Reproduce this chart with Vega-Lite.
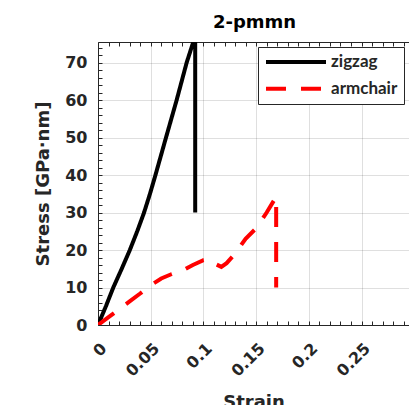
{
  "$schema": "https://vega.github.io/schema/vega-lite/v6.json",
  "autosize": {"type": "none"},
  "padding": {"left": 98, "top": 42, "right": 0, "bottom": 80},
  "width": 311,
  "height": 283,
  "background": "white",
  "config": {
    "view": {"stroke": null},
    "axis": {
      "domainColor": "#262626",
      "domainWidth": 1,
      "tickColor": "#262626",
      "labelColor": "#262626",
      "titleColor": "#262626",
      "labelFont": "DejaVu Sans",
      "labelFontWeight": "bold",
      "labelFontSize": 16,
      "titleFont": "DejaVu Sans",
      "titleFontWeight": "bold",
      "titleFontSize": 18
    }
  },
  "title": {
    "text": "2-pmmn",
    "font": "DejaVu Sans",
    "fontSize": 18,
    "fontWeight": "bold",
    "color": "#000000",
    "baseline": "alphabetic",
    "frame": "group",
    "offset": -6,
    "dx": 1
  },
  "data": {
    "values": [
      {"series": "zigzag", "i": 0, "strain": 0, "stress": 0},
      {"series": "zigzag", "i": 1, "strain": 0.0075, "stress": 5},
      {"series": "zigzag", "i": 2, "strain": 0.0145, "stress": 10},
      {"series": "zigzag", "i": 3, "strain": 0.0225, "stress": 15},
      {"series": "zigzag", "i": 4, "strain": 0.0302, "stress": 20},
      {"series": "zigzag", "i": 5, "strain": 0.0372, "stress": 25},
      {"series": "zigzag", "i": 6, "strain": 0.0437, "stress": 30},
      {"series": "zigzag", "i": 7, "strain": 0.0493, "stress": 35},
      {"series": "zigzag", "i": 8, "strain": 0.0545, "stress": 40},
      {"series": "zigzag", "i": 9, "strain": 0.0645, "stress": 50},
      {"series": "zigzag", "i": 10, "strain": 0.0746, "stress": 60},
      {"series": "zigzag", "i": 11, "strain": 0.0841, "stress": 70},
      {"series": "zigzag", "i": 12, "strain": 0.0904, "stress": 75.5},
      {"series": "zigzag", "i": 13, "strain": 0.0922, "stress": 77.5},
      {"series": "zigzag", "i": 14, "strain": 0.0922, "stress": 30},
      {"series": "armchair", "i": 0, "strain": 0, "stress": 0},
      {"series": "armchair", "i": 1, "strain": 0.01, "stress": 2.1},
      {"series": "armchair", "i": 2, "strain": 0.02, "stress": 4.2},
      {"series": "armchair", "i": 3, "strain": 0.03, "stress": 6.3},
      {"series": "armchair", "i": 4, "strain": 0.04, "stress": 8.4},
      {"series": "armchair", "i": 5, "strain": 0.05, "stress": 10.6},
      {"series": "armchair", "i": 6, "strain": 0.06, "stress": 12.4},
      {"series": "armchair", "i": 7, "strain": 0.07, "stress": 13.6},
      {"series": "armchair", "i": 8, "strain": 0.08, "stress": 14.5},
      {"series": "armchair", "i": 9, "strain": 0.09, "stress": 16.0},
      {"series": "armchair", "i": 10, "strain": 0.1, "stress": 17.3},
      {"series": "armchair", "i": 11, "strain": 0.106, "stress": 17.6},
      {"series": "armchair", "i": 12, "strain": 0.112, "stress": 16.2},
      {"series": "armchair", "i": 13, "strain": 0.117, "stress": 15.5},
      {"series": "armchair", "i": 14, "strain": 0.122, "stress": 16.5},
      {"series": "armchair", "i": 15, "strain": 0.13, "stress": 19.0},
      {"series": "armchair", "i": 16, "strain": 0.14, "stress": 23.0},
      {"series": "armchair", "i": 17, "strain": 0.15, "stress": 25.8},
      {"series": "armchair", "i": 18, "strain": 0.16, "stress": 30.0},
      {"series": "armchair", "i": 19, "strain": 0.169, "stress": 34.2},
      {"series": "armchair", "i": 20, "strain": 0.169, "stress": 10}
    ]
  },
  "layer": [
    {
      "mark": {"type": "line", "strokeWidth": 4, "clip": true},
      "encoding": {
        "x": {
          "field": "strain",
          "type": "quantitative",
          "scale": {"domain": [0, 0.295], "nice": false, "zero": false},
          "axis": {
            "orient": "bottom",
            "values": [0, 0.01, 0.02, 0.03, 0.04, 0.05, 0.06, 0.07, 0.08, 0.09, 0.1, 0.11, 0.12, 0.13, 0.14, 0.15, 0.16, 0.17, 0.18, 0.19, 0.2, 0.21, 0.22, 0.23, 0.24, 0.25, 0.26, 0.27, 0.28, 0.29],
            "labelExpr": "abs(round(datum.value*100)) % 5 == 0 ? format(datum.value, '~g') : ''",
            "grid": true,
            "gridColor": "#262626",
            "gridOpacity": {"condition": {"test": "abs(round(datum.value*100)) % 5 == 0", "value": 0.15}, "value": 0},
            "tickSize": -4,
            "labelAngle": -45,
            "labelAlign": "right",
            "labelBaseline": "top",
            "labelPadding": 19,
            "labelOverlap": false,
            "labelFlush": false,
            "title": "Strain",
            "titlePadding": 14
          }
        },
        "y": {
          "field": "stress",
          "type": "quantitative",
          "scale": {"domain": [0, 75.5], "nice": false},
          "axis": {
            "values": [0, 2, 4, 6, 8, 10, 12, 14, 16, 18, 20, 22, 24, 26, 28, 30, 32, 34, 36, 38, 40, 42, 44, 46, 48, 50, 52, 54, 56, 58, 60, 62, 64, 66, 68, 70, 72, 74],
            "labelExpr": "datum.value % 10 == 0 ? format(datum.value, 'd') : ''",
            "grid": true,
            "gridColor": "#262626",
            "gridOpacity": {"condition": {"test": "datum.value % 10 == 0", "value": 0.15}, "value": 0},
            "tickSize": -4,
            "labelPadding": 15,
            "labelOverlap": false,
            "labelFlush": false,
            "title": "Stress [GPa·nm]",
            "titlePadding": 12
          }
        },
        "color": {
          "field": "series",
          "type": "nominal",
          "scale": {"domain": ["zigzag", "armchair"], "range": ["#000000", "#ff0000"]},
          "legend": {
            "orient": "none",
            "legendX": 160,
            "legendY": 5,
            "title": null,
            "symbolType": "stroke",
            "symbolSize": 3600,
            "symbolStrokeWidth": 4,
            "clipHeight": 18,
            "labelFont": "Lato",
            "labelFontSize": 17,
            "labelFontWeight": "bold",
            "labelColor": "#262626",
            "labelOffset": 3,
            "strokeColor": "#262626",
            "fillColor": "white",
            "padding": 6,
            "rowPadding": 8.7
          }
        },
        "strokeDash": {
          "field": "series",
          "type": "nominal",
          "scale": {"domain": ["zigzag", "armchair"], "range": [[1, 0], [20, 15]]},
          "legend": {
            "orient": "none",
            "legendX": 160,
            "legendY": 5,
            "title": null,
            "symbolType": "stroke",
            "symbolSize": 3600,
            "symbolStrokeWidth": 4,
            "clipHeight": 18,
            "labelFont": "Lato",
            "labelFontSize": 17,
            "labelFontWeight": "bold",
            "labelColor": "#262626",
            "labelOffset": 3,
            "strokeColor": "#262626",
            "fillColor": "white",
            "padding": 6,
            "rowPadding": 8.7
          }
        },
        "order": {"field": "i", "type": "quantitative"}
      }
    },
    {
      "mark": {"type": "point", "opacity": 0},
      "encoding": {
        "x": {
          "field": "strain",
          "type": "quantitative",
          "axis": {
            "orient": "top",
            "values": [0, 0.01, 0.02, 0.03, 0.04, 0.05, 0.06, 0.07, 0.08, 0.09, 0.1, 0.11, 0.12, 0.13, 0.14, 0.15, 0.16, 0.17, 0.18, 0.19, 0.2, 0.21, 0.22, 0.23, 0.24, 0.25, 0.26, 0.27, 0.28, 0.29],
            "labels": false,
            "grid": false,
            "tickSize": -4,
            "title": null
          }
        }
      }
    }
  ],
  "resolve": {"axis": {"x": "independent"}}
}
